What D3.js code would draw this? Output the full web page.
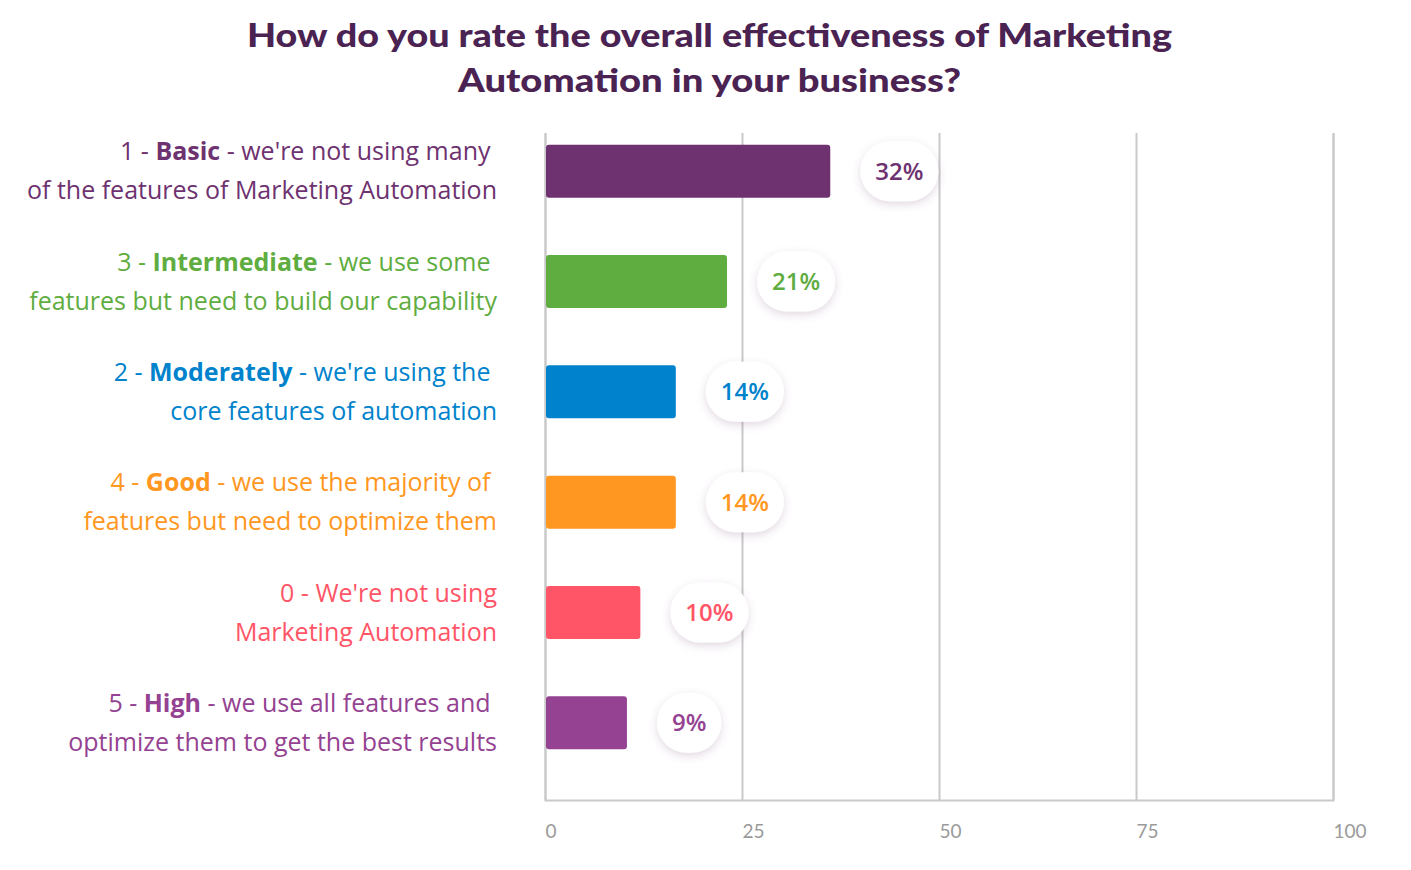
<!DOCTYPE html>
<html>
<head>
<meta charset="utf-8">
<script src="https://cdn.jsdelivr.net/npm/d3@7"></script>
<style>
  html, body { margin: 0; padding: 0; background: #ffffff; }
  svg { display: block; }
  text { white-space: pre; }
</style>
</head>
<body>
<svg id="chart" width="1411" height="870"></svg>
<script>
// ---- data ----
const titleLines = ["How do you rate the overall effectiveness of Marketing", "Automation in your business?"];
const ratings = ["1", "3", "2", "4", "0", "5"];
const names = ["Basic", "Intermediate", "Moderately", "Good", "", "High"];
const line1Rest = [" - we're not using many\u00a0", " - we use some\u00a0", " - we're using the\u00a0", " - we use the majority of\u00a0", "We're not using", " - we use all features and\u00a0"];
const line2 = ["of the features of Marketing Automation", "features but need to build our capability", "core features of automation", "features but need to optimize them", "Marketing Automation", "optimize them to get the best results"];
const barValues = [36.2, 23.1, 16.6, 16.6, 12.1, 10.4];
const valueLabels = ["32%", "21%", "14%", "14%", "10%", "9%"];
const colors = ["#6e3270", "#5fad41", "#0083cc", "#ff9721", "#ff5566", "#944291"];
const xTicks = [0, 25, 50, 75, 100];

const svg = d3.select("#chart");
const FONT = "Lato, 'Open Sans', sans-serif";
const LFONT = "'Open Sans', Lato, sans-serif";

const defs = svg.append("defs");
const f = defs.append("filter").attr("id", "shadow").attr("x", "-40%").attr("y", "-40%").attr("width", "180%").attr("height", "200%");
f.append("feDropShadow").attr("dx", 0).attr("dy", 3).attr("stdDeviation", 4)
  .attr("flood-color", "#7a4a7a").attr("flood-opacity", 0.22);

const x = d3.scaleLinear().domain([0, 100]).range([545, 1333]);
const idx = d3.range(ratings.length);
const y = d3.scaleBand().domain(idx).range([116, 778]).paddingInner(0.52).paddingOuter(0.26);
const gridTop = 133, gridBottom = 800;

// title
const title = svg.append("g");
titleLines.forEach((t, i) => {
  title.append("text")
    .attr("x", 709.5).attr("y", 47 + i * 45)
    .attr("text-anchor", "middle")
    .attr("font-family", FONT).attr("font-weight", 900).attr("font-size", 33)
    .attr("fill", "#4b2352")
    .attr("textLength", i === 0 ? 925 : 503).attr("lengthAdjust", "spacingAndGlyphs")
    .text(t);
});

// grid
const xAxis = d3.axisBottom(x).tickValues(xTicks).tickSize(-(gridBottom - gridTop)).tickPadding(29).tickFormat(d3.format("d"));
const ax = svg.append("g").attr("transform", `translate(0,${gridBottom})`).call(xAxis);
ax.select(".domain").attr("stroke", "#c9c9c9").attr("stroke-width", 2);
ax.selectAll(".tick line").attr("stroke", "#c9c9c9").attr("stroke-width", 2);
ax.selectAll(".tick text")
  .attr("font-family", FONT).attr("font-size", 19).attr("fill", "#9a9a9a")
  .attr("text-anchor", "start").attr("dx", 0).attr("dy", "0.45em");

// bars
svg.append("g").selectAll("rect").data(idx).join("rect")
  .attr("x", x(0) + 1)
  .attr("y", d => y(d))
  .attr("width", d => x(barValues[d]) - x(0) - 1)
  .attr("height", y.bandwidth())
  .attr("rx", 3)
  .attr("fill", d => colors[d]);

// category labels
const lab = svg.append("g").attr("font-family", LFONT).attr("font-size", 25);
idx.forEach(i => {
  const cy = y(i) + y.bandwidth() / 2;
  const t1 = lab.append("text").attr("x", 497).attr("y", cy - 11).attr("text-anchor", "end").attr("fill", colors[i]);
  t1.append("tspan").text(ratings[i] + " - ");
  if (names[i]) t1.append("tspan").attr("font-weight", 700).text(names[i]);
  t1.append("tspan").text(line1Rest[i]);
  lab.append("text").attr("x", 497).attr("y", cy + 28).attr("text-anchor", "end").attr("fill", colors[i]).text(line2[i]);
});

// value bubbles
const vb = svg.append("g");
idx.forEach(i => {
  const cy = y(i) + y.bandwidth() / 2;
  const g = vb.append("g");
  const txt = g.append("text")
    .attr("font-family", LFONT).attr("font-size", 24).attr("font-weight", 600)
    .attr("fill", colors[i]).attr("text-anchor", "middle").attr("dy", "0.36em")
    .text(valueLabels[i]);
  const w = txt.node().getComputedTextLength() + 30;
  const left = x(barValues[i]) + 30;
  const h = 60;
  g.insert("rect", "text")
    .attr("x", left).attr("y", cy - h / 2).attr("width", w).attr("height", h)
    .attr("rx", 30).attr("fill", "#ffffff").attr("filter", "url(#shadow)");
  txt.attr("x", left + w / 2).attr("y", cy);
});
</script>
</body>
</html>
